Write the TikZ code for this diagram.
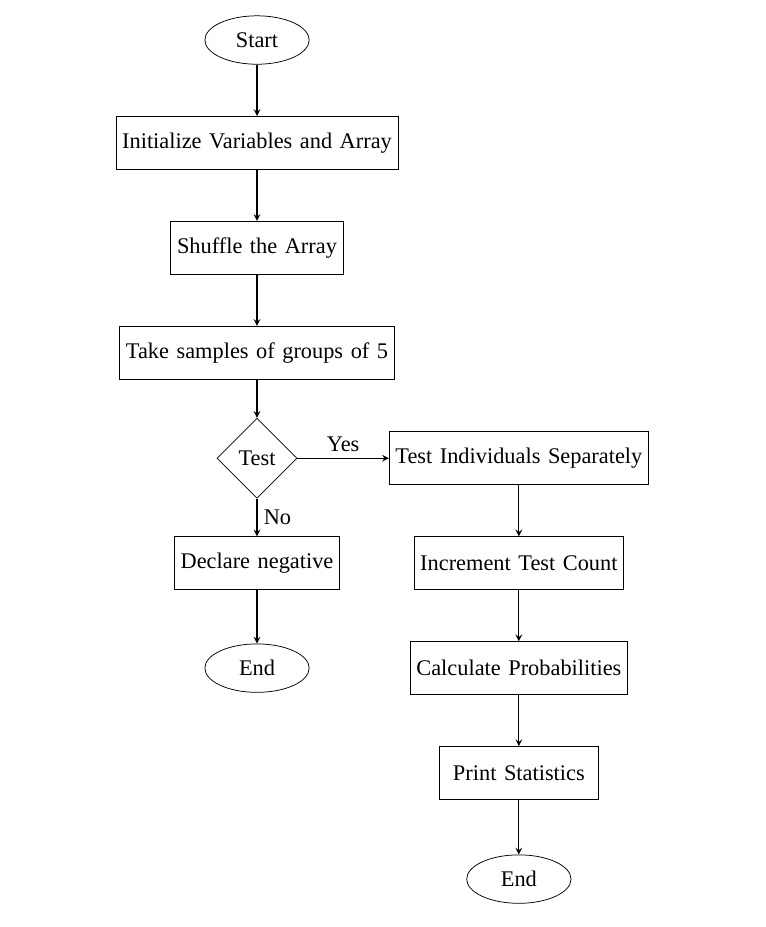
\documentclass[tikz,border=0pt]{standalone}
\usepackage{fontspec}
\setmainfont[WordSpace=1.35]{Liberation Serif}
\usepackage{tikz}
\usetikzlibrary{shapes,arrows,positioning}

\begin{document}
\begin{tikzpicture}[>=stealth,
        every node/.style={font=\fontsize{12pt}{14.4pt}\selectfont},
        terminal/.style={ellipse, draw, minimum width=56pt, minimum height=26pt, text centered},
        process/.style={rectangle, draw, minimum width=3cm, minimum height=1cm, text centered},
        decision/.style={diamond, draw, aspect=1, minimum width=43pt, minimum height=43pt, inner sep=1pt, text centered},
        line/.style={draw, ->, semithick},
    ]
        \useasboundingbox (-4.849, 0.755) rectangle (9.584, -16.734);

        % Main column
        \node[terminal] (start) at (0, 0) {Start};
        \node[process] (init) at (0, -1.94) {Initialize Variables and Array};
        \node[process] (shuffle) at (0, -3.92) {Shuffle the Array};
        \node[process] (samples) at (0, -5.90) {Take samples of groups of 5};
        \node[decision] (test) at (0, -7.89) {Test};
        \node[process] (negative) at (0, -9.87) {Declare negative};
        \node[terminal] (end_left) at (0, -11.85) {End};

        % Positive branch
        \node[process] (individuals) at (4.94, -7.89) {Test Individuals Separately};
        \node[process] (increment) at (4.94, -9.87) {Increment Test Count};
        \node[process] (probs) at (4.94, -11.85) {Calculate Probabilities};
        \node[process] (stats) at (4.94, -13.83) {Print Statistics};
        \node[terminal] (end_right) at (4.94, -15.83) {End};

        \draw[line] (start) -- (init);
        \draw[line] (init) -- (shuffle);
        \draw[line] (shuffle) -- (samples);
        \draw[line] (samples) -- (test);
        \draw[line] (test) -- node[above] {Yes} (individuals);
        \draw[line] (test) -- node[right] {No} (negative);
        \draw[line] (negative) -- (end_left);
        \draw[line] (individuals) -- (increment);
        \draw[line] (increment) -- (probs);
        \draw[line] (probs) -- (stats);
        \draw[line] (stats) -- (end_right);
    \end{tikzpicture}
\end{document}
